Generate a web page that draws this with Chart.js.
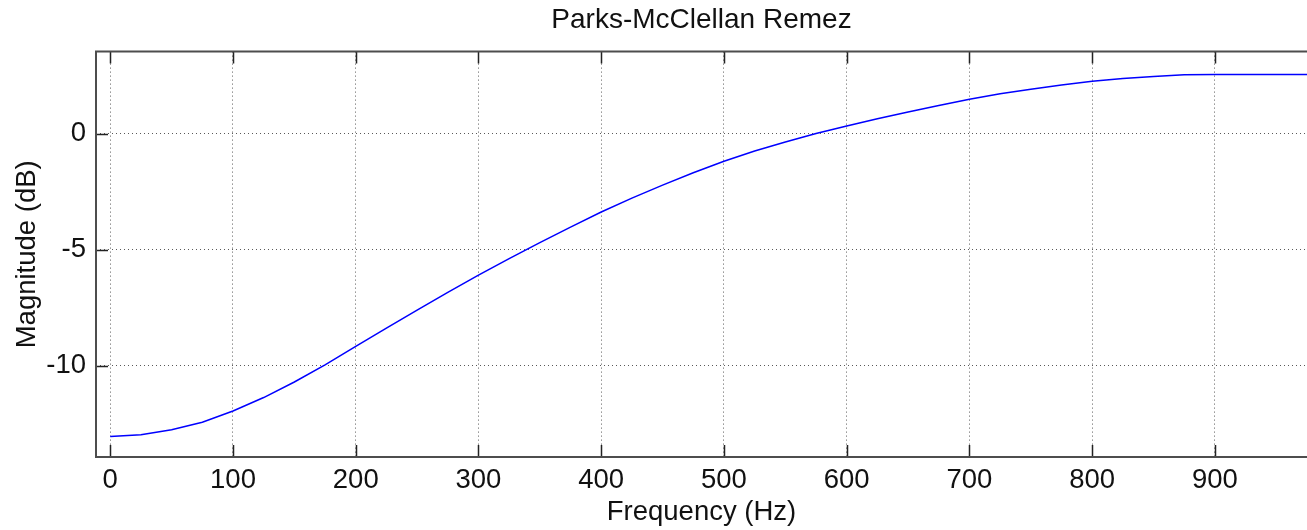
<!DOCTYPE html>
<html lang="en">
<head>
    <meta charset="UTF-8">
    <meta name="viewport" content="width=device-width, initial-scale=1.0">
    <title>Parks-McClellan Remez</title>
    <script src="https://cdn.jsdelivr.net/npm/chart.js"></script>
    <style>
        body {
            margin: 0;
            background: #fff;
        }
        .chart-container {
            width: 1307px;
            height: 530px;
        }
    </style>
</head>
<body>
    <div class="chart-container">
        <canvas id="graficoRemez"></canvas>
    </div>

    <script>
        // frequency response of the filter, every 25 Hz
        const freqs = [0, 25, 50, 75, 100, 125, 150, 175, 200, 225, 250, 275, 300, 325, 350, 375,
                       400, 425, 450, 475, 500, 525, 550, 575, 600, 625, 650, 675, 700, 725, 750,
                       775, 800, 825, 850, 875, 900, 925, 950, 975];
        const magDb = [-13.05, -12.97, -12.76, -12.43, -11.95, -11.37, -10.7, -9.96, -9.17, -8.38,
                       -7.6, -6.84, -6.1, -5.39, -4.7, -4.03, -3.38, -2.78, -2.22, -1.69, -1.19,
                       -0.75, -0.36, 0.0, 0.33, 0.64, 0.93, 1.21, 1.48, 1.71, 1.91, 2.09, 2.25, 2.37,
                       2.46, 2.53, 2.54, 2.54, 2.54, 2.54];

        const xTicks = [0, 100, 200, 300, 400, 500, 600, 700, 800, 900];
        const yTicks = [-10, -5, 0];

        const FONT = "'Liberation Sans', Arial, Helvetica, sans-serif";

        // matlab style box with ticks pointing inwards
        const axesBox = {
            id: 'axesBox',
            afterDatasetsDraw(chart) {
                const {ctx, chartArea: a, scales} = chart;
                const tick = 12;
                ctx.save();
                ctx.strokeStyle = '#222';
                ctx.lineWidth = 1.5;
                ctx.beginPath();
                xTicks.forEach(v => {
                    const px = Math.round(scales.x.getPixelForValue(v)) + 0.5;
                    ctx.moveTo(px, a.bottom);
                    ctx.lineTo(px, a.bottom - tick);
                    ctx.moveTo(px, a.top);
                    ctx.lineTo(px, a.top + tick);
                });
                yTicks.forEach(v => {
                    const py = Math.round(scales.y.getPixelForValue(v)) + 0.5;
                    ctx.moveTo(a.left, py);
                    ctx.lineTo(a.left + tick, py);
                });
                ctx.stroke();

                ctx.strokeStyle = '#4d4d4d';
                ctx.lineWidth = 2;
                ctx.beginPath();
                ctx.moveTo(a.right, a.top);
                ctx.lineTo(a.left, a.top);
                ctx.lineTo(a.left, a.bottom);
                ctx.lineTo(a.right, a.bottom);
                ctx.stroke();
                ctx.restore();
            }
        };

        new Chart(document.getElementById("graficoRemez"), {
            type: 'line',
            data: {
                datasets: [
                    {
                        label: "Remez",
                        data: freqs.map((f, i) => ({x: f, y: magDb[i]})),
                        borderColor: "#0000ff",
                        borderWidth: 1.5,
                        fill: false,
                        tension: 0,
                        pointRadius: 0,
                    },
                ]
            },
            options: {
                responsive: true,
                maintainAspectRatio: false,
                animation: false,
                layout: {
                    padding: {left: 0, right: 0, top: 0, bottom: 0}
                },
                plugins: {
                    legend: { display: false },
                    tooltip: { enabled: false },
                    title: {
                        display: true,
                        text: 'Parks-McClellan Remez',
                        fullSize: false,
                        color: '#111',
                        font: { family: FONT, size: 28, weight: 'normal' },
                        padding: { top: 3, bottom: 15 }
                    }
                },
                scales: {
                    x: {
                        type: 'linear',
                        min: -11.6,
                        max: 975,
                        afterBuildTicks: s => { s.ticks = xTicks.map(v => ({value: v})); },
                        afterFit: s => { s.height = 73; },
                        grid: {
                            color: 'rgba(0,0,0,0.65)',
                            lineWidth: 1,
                            drawTicks: false,
                        },
                        border: { display: false, dash: [1, 3] },
                        ticks: {
                            color: '#111',
                            padding: 7,
                            maxRotation: 0,
                            font: { family: FONT, size: 27.5 }
                        },
                        title: {
                            display: true,
                            text: 'Frequency (Hz)',
                            color: '#111',
                            font: { family: FONT, size: 27.5 },
                            padding: { top: 1, bottom: 1 }
                        }
                    },
                    y: {
                        type: 'linear',
                        min: -13.93,
                        max: 3.53,
                        afterBuildTicks: s => { s.ticks = yTicks.map(v => ({value: v})); },
                        afterFit: s => { s.width = 96; },
                        grid: {
                            color: 'rgba(0,0,0,0.65)',
                            lineWidth: 1,
                            drawTicks: false,
                        },
                        border: { display: false, dash: [1, 3] },
                        ticks: {
                            color: '#111',
                            padding: 10,
                            font: { family: FONT, size: 27.5 }
                        },
                        title: {
                            display: true,
                            text: 'Magnitude (dB)',
                            color: '#111',
                            font: { family: FONT, size: 27.5 },
                            padding: { top: 11, bottom: 0 }
                        }
                    }
                }
            },
            plugins: [axesBox]
        });
    </script>
</body>
</html>
